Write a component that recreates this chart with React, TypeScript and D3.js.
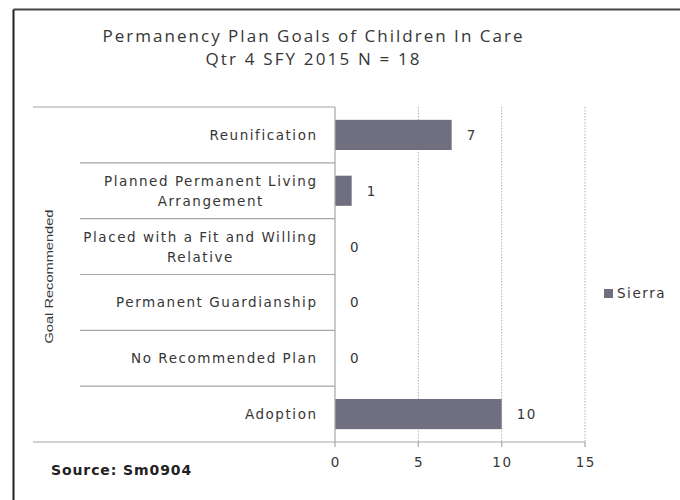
import React, { useMemo } from "react";
import * as d3 from "d3";

const categories: string[][] = [
  ["Reunification"],
  ["Planned Permanent Living", "Arrangement"],
  ["Placed with a Fit and Willing", "Relative"],
  ["Permanent Guardianship"],
  ["No Recommended Plan"],
  ["Adoption"],
];
const values: number[] = [7, 1, 0, 0, 0, 10];
const xTicks: number[] = [0, 5, 10, 15];
const seriesName = "Sierra";
const titleLines = ["Permanency Plan Goals of Children In Care", "Qtr 4 SFY 2015 N = 18"];
const yTitle = "Goal Recommended";
const sourceText = "Source: Sm0904";

const W = 680;
const H = 500;
const plotLeft = 335;
const plotRight = 585;
const plotTop = 107;
const plotBottom = 442;
const barColor = "#6f6f80";
const textColor = "#363636";
const lineColor = "#a6a6a6";
const labelFont = "'DejaVu Sans', Verdana, sans-serif";
const titleFont = "'Open Sans', 'Liberation Sans', Arial, sans-serif";
const labelSize = 13.5;
const labelLS = 1.55;
const titleSize = 17;
const titleWidths = [420, 214];

function measure(text: string, font: string, ls: number): number {
  if (typeof document === "undefined") return text.length * 8;
  const c = document.createElement("canvas");
  const ctx = c.getContext("2d");
  if (!ctx) return text.length * 8;
  ctx.font = font;
  return ctx.measureText(text).width + ls * text.length;
}

export default function App() {
  const x = d3.scaleLinear().domain([0, 15]).range([plotLeft, plotRight]);
  const keys = categories.map((c, i) => String(i));
  const y = d3
    .scaleBand<string>()
    .domain(keys)
    .range([plotTop, plotBottom])
    .paddingInner(0.46)
    .paddingOuter(0.23);
  const step = y.step();
  const boundaries = d3.range(categories.length + 1).map((i) => plotTop + i * step);
  const labelRight = 316 + labelLS;

  const blockWidths = useMemo(
    () =>
      categories.map((lines) =>
        Math.max(...lines.map((l) => measure(l, `${labelSize}px 'DejaVu Sans'`, labelLS)))
      ),
    []
  );
  const titleLS = useMemo(
    () =>
      titleLines.map((t, i) => {
        const w = measure(t, `${titleSize}px 'Open Sans'`, 0);
        return Math.max(0, (titleWidths[i] - w) / (t.length - 1));
      }),
    []
  );

  return (
    <svg
      width={W}
      height={H}
      style={{ position: "absolute", left: 0, top: 0, background: "#fff" }}
    >
      <rect x={0} y={0} width={W} height={H} fill="#fff" />
      {/* outer border (cropped) */}
      <line x1={13.5} y1={9.5} x2={W} y2={9.5} stroke="#444" strokeWidth={2} />
      <line x1={13.5} y1={9.5} x2={13.5} y2={H} stroke="#222" strokeWidth={2} />

      {/* title */}
      {titleLines.map((t, i) => (
        <text
          key={t}
          x={312.5 + titleLS[i] / 2}
          y={42 + i * 23}
          textAnchor="middle"
          fontFamily={titleFont}
          fontSize={titleSize}
          letterSpacing={titleLS[i]}
          fill={textColor}
        >
          {t}
        </text>
      ))}

      {/* gridlines */}
      {xTicks.slice(1).map((t) => (
        <line
          key={"g" + t}
          x1={x(t)}
          x2={x(t)}
          y1={plotTop}
          y2={plotBottom}
          stroke="#b0b0b0"
          strokeDasharray="1.5,1.5"
          strokeWidth={1}
        />
      ))}

      {/* bars */}
      {values.map((v, i) => (
        <rect
          key={"b" + i}
          x={x(0)}
          y={y(String(i))!}
          width={x(v) - x(0)}
          height={y.bandwidth()}
          fill={barColor}
        />
      ))}

      {/* category separators */}
      {boundaries.map((b, i) => {
        const outer = i === 0 || i === categories.length;
        return (
          <line
            key={"s" + i}
            x1={outer ? 33 : 80}
            x2={i === categories.length ? plotRight : plotLeft}
            y1={b}
            y2={b}
            stroke={lineColor}
            strokeWidth={1.2}
          />
        );
      })}
      {/* vertical axis */}
      <line x1={plotLeft} x2={plotLeft} y1={plotTop} y2={plotBottom} stroke={lineColor} strokeWidth={1.2} />

      {/* x ticks */}
      {xTicks.map((t) => (
        <g key={"t" + t}>
          <line x1={x(t)} x2={x(t)} y1={plotBottom} y2={plotBottom + 5} stroke={lineColor} strokeWidth={1.2} />
          <text
            x={x(t) + labelLS / 2}
            y={plotBottom + 24.5}
            textAnchor="middle"
            fontFamily={labelFont}
            fontSize={labelSize}
            letterSpacing={labelLS}
            fill={textColor}
          >
            {t}
          </text>
        </g>
      ))}

      {/* category labels */}
      {categories.map((lines, i) => {
        const cy = y(String(i))! + y.bandwidth() / 2;
        const lh = 20;
        const start = cy - ((lines.length - 1) * lh) / 2;
        const multi = lines.length > 1;
        const center = labelRight - blockWidths[i] / 2;
        return (
          <text
            key={"c" + i}
            fontFamily={labelFont}
            fontSize={labelSize}
            letterSpacing={labelLS}
            fill={textColor}
          >
            {lines.map((l, j) => (
              <tspan
                key={j}
                x={multi ? center : labelRight}
                y={start + j * lh + 5}
                textAnchor={multi ? "middle" : "end"}
              >
                {l}
              </tspan>
            ))}
          </text>
        );
      })}

      {/* value labels */}
      {values.map((v, i) => (
        <text
          key={"v" + i}
          x={x(v) + 15}
          y={y(String(i))! + y.bandwidth() / 2 + 5}
          fontFamily={labelFont}
          fontSize={labelSize}
          letterSpacing={labelLS}
          fill={textColor}
        >
          {v}
        </text>
      ))}

      {/* y axis title */}
      <text
        transform={`translate(53, ${(plotTop + plotBottom) / 2 + 2}) rotate(-90)`}
        textAnchor="middle"
        fontFamily="'Liberation Sans', Arial, sans-serif"
        fontSize={11.5}
        fill={textColor}
        textLength={134}
        lengthAdjust="spacingAndGlyphs"
      >
        {yTitle}
      </text>

      {/* legend */}
      <rect x={604} y={289} width={9} height={9} fill={barColor} />
      <text
        x={617}
        y={298}
        fontFamily={labelFont}
        fontSize={labelSize}
        letterSpacing={labelLS}
        fill={textColor}
      >
        {seriesName}
      </text>

      {/* source */}
      <text
        x={51}
        y={475}
        fontFamily={labelFont}
        fontSize={14}
        letterSpacing={0.9}
        fontWeight="bold"
        fill="#222"
      >
        {sourceText}
      </text>
    </svg>
  );
}
